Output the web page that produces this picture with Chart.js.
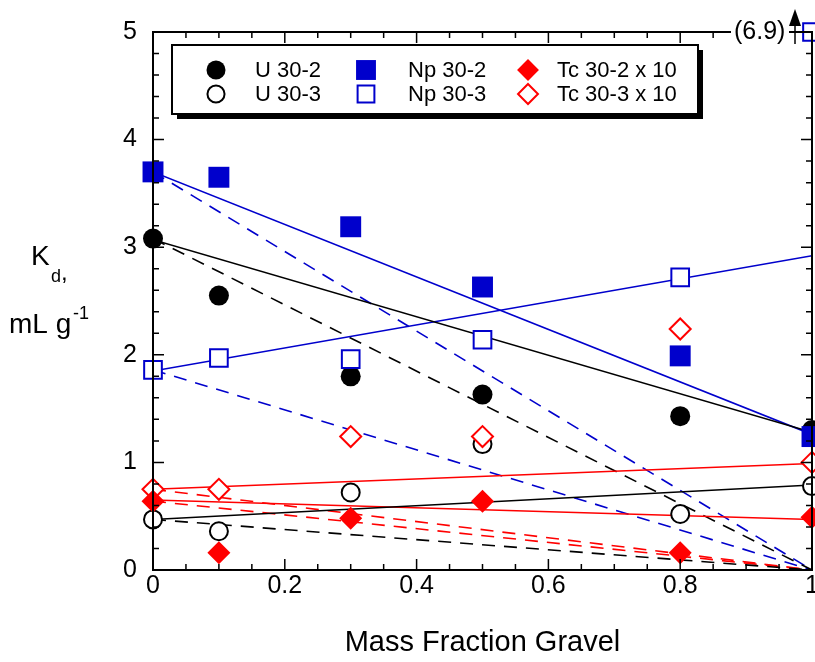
<!DOCTYPE html>
<html>
<head>
<meta charset="utf-8">
<script src="https://cdn.jsdelivr.net/npm/chart.js@4"></script>
<style>
  html, body { margin: 0; padding: 0; background: #fff; overflow: hidden; }
  #clip { width: 815px; height: 662px; overflow: hidden; position: relative; }
  #wrap { width: 830px; height: 662px; position: relative; }
</style>
</head>
<body>
<div id="clip"><div id="wrap"><canvas id="myChart1"></canvas></div></div>
<script>
// mass fraction gravel (x) and Kd values
const gravel = [0, 0.1, 0.3, 0.5, 0.8, 1];
const u302 = [3.08, 2.55, 1.80, 1.63, 1.43, 1.30];
const u303 = [0.47, 0.36, 0.72, 1.17, 0.52, 0.78];
const np302 = [3.70, 3.65, 3.19, 2.63, 1.99, 1.24];
const np303 = [1.86, 1.97, 1.96, 2.14, 2.72, 6.9];   // last one is off scale
const tc302 = [0.64, 0.16, 0.48, 0.64, 0.16, 0.49];  // x 10
const tc303 = [0.75, 0.75, 1.24, 1.24, 2.24, 1.00];  // x 10

// regression lines, value at x=0 and x=1
const fitU302 = [3.07, 1.28];
const fitU303 = [0.47, 0.79];
const fitNp302 = [3.70, 1.26];
const fitNp303 = [1.85, 2.92];
const fitTc302 = [0.65, 0.47];
const fitTc303 = [0.75, 0.99];

const xTicks = [0, 0.2, 0.4, 0.6, 0.8, 1];
const yTicks = [0, 1, 2, 3, 4, 5];
const yMax = 5;

const BLUE = '#0000cc';
const RED = '#ff0000';
const FONT = '"Liberation Sans", Arial, sans-serif';

function pts(vals) {
  return gravel.map((g, i) => ({ x: g, y: Math.min(vals[i], yMax) }));
}
function fit(ends) {
  return [{ x: 0, y: ends[0] }, { x: 1, y: ends[1] }];
}
function dilute(vals) {
  return [{ x: 0, y: vals[0] }, { x: 1, y: 0 }];
}

function lineSet(data, color, dashed) {
  return {
    label: '', data: data, showLine: true, borderColor: color, borderWidth: 1.6,
    borderDash: dashed ? [13, 9] : [], pointRadius: 0, fill: false, order: 10
  };
}
function markSet(label, vals, style, color, filled, r, order) {
  return {
    label: label, data: pts(vals), showLine: false, pointStyle: style,
    pointRadius: r, pointHoverRadius: r,
    pointBackgroundColor: filled ? color : '#fff', pointBorderColor: color,
    pointBorderWidth: filled ? 0 : 2, clip: false, order: order
  };
}

const markers = [
  markSet('U 30-2', u302, 'circle', '#000', true, 10, 3),
  markSet('U 30-3', u303, 'circle', '#000', false, 9, 3),
  markSet('Np 30-2', np302, 'rect', BLUE, true, 14.8, 2),
  markSet('Np 30-3', np303, 'rect', BLUE, false, 12.5, 2),
  markSet('Tc 30-2 x 10', tc302, 'rectRot', RED, true, 11.5, 1),
  markSet('Tc 30-3 x 10', tc303, 'rectRot', RED, false, 10.5, 1)
];

const lines = [
  lineSet(fit(fitU302), '#000', false),
  lineSet(fit(fitU303), '#000', false),
  lineSet(fit(fitNp302), BLUE, false),
  lineSet(fit(fitNp303), BLUE, false),
  lineSet(fit(fitTc302), RED, false),
  lineSet(fit(fitTc303), RED, false),
  lineSet(dilute(u302), '#000', true),
  lineSet(dilute(u303), '#000', true),
  lineSet(dilute(np302), BLUE, true),
  lineSet(dilute(np303), BLUE, true),
  lineSet(dilute(tc302), RED, true),
  lineSet(dilute(tc303), RED, true)
];

function drawMark(ctx, style, x, y, r, color, filled) {
  ctx.beginPath();
  if (style === 'circle') {
    ctx.arc(x, y, r, 0, Math.PI * 2);
  } else if (style === 'rect') {
    const s = r / Math.SQRT2;
    ctx.rect(x - s, y - s, 2 * s, 2 * s);
  } else {
    ctx.moveTo(x, y - r); ctx.lineTo(x + r, y); ctx.lineTo(x, y + r); ctx.lineTo(x - r, y); ctx.closePath();
  }
  ctx.fillStyle = filled ? color : '#fff';
  ctx.fill();
  if (!filled) { ctx.lineWidth = 2; ctx.strokeStyle = color; ctx.stroke(); }
}

// frame, inward ticks, legend box, y title and the (6.9) note
const extras = {
  id: 'extras',
  afterDatasetsDraw(chart) {
    const ctx = chart.ctx;
    const a = chart.chartArea;
    const xs = chart.scales.x, ys = chart.scales.y;
    ctx.save();
    ctx.strokeStyle = '#000';
    ctx.lineWidth = 2;
    ctx.strokeRect(a.left, a.top, a.right - a.left, a.bottom - a.top);

    ctx.lineWidth = 1.5;
    ctx.beginPath();
    for (let i = 0; i <= 20; i++) {
      const px = xs.getPixelForValue(i * 0.05);
      const len = (i % 4 === 0) ? 11 : 6;
      ctx.moveTo(px, a.bottom); ctx.lineTo(px, a.bottom - len);
      ctx.moveTo(px, a.top); ctx.lineTo(px, a.top + len);
    }
    for (let i = 0; i <= 25; i++) {
      const py = ys.getPixelForValue(i * 0.2);
      const len = (i % 5 === 0) ? 11 : 6;
      ctx.moveTo(a.left, py); ctx.lineTo(a.left + len, py);
      ctx.moveTo(a.right, py); ctx.lineTo(a.right - len, py);
    }
    ctx.stroke();

    // legend
    const L = 172, T = 45, R = 698, B = 114;
    ctx.fillStyle = '#000';
    ctx.fillRect(L + 5, T + 5, R - L, B - T);
    ctx.fillStyle = '#fff';
    ctx.fillRect(L, T, R - L, B - T);
    ctx.lineWidth = 2;
    ctx.strokeRect(L, T, R - L, B - T);
    const colX = [[216, 255], [366, 408], [528, 557]];
    const rowY = [70, 94];
    ctx.font = '22px ' + FONT;
    ctx.textBaseline = 'middle';
    ctx.textAlign = 'left';
    markers.forEach((d, i) => {
      const col = Math.floor(i / 2), row = i % 2;
      const filled = d.pointBorderWidth === 0;
      drawMark(ctx, d.pointStyle, colX[col][0], rowY[row], d.pointRadius * 0.95, d.pointBorderColor, filled);
      ctx.fillStyle = '#000';
      ctx.fillText(d.label, colX[col][1], rowY[row] + 1);
    });

    // off-scale note
    const topY = a.top;
    ctx.font = '25px ' + FONT;
    ctx.fillStyle = '#fff';
    ctx.fillRect(731, topY - 15, 58, 30);
    ctx.fillStyle = '#000';
    ctx.strokeStyle = '#000';
    ctx.textBaseline = 'middle';
    ctx.fillText('(' + np303[5] + ')', 734, topY);
    ctx.lineWidth = 1.5;
    ctx.beginPath();
    ctx.moveTo(795, topY + 12); ctx.lineTo(795, topY - 12);
    ctx.moveTo(789, topY); ctx.lineTo(a.right, topY);
    ctx.stroke();
    ctx.beginPath();
    ctx.moveTo(795, topY - 23); ctx.lineTo(801, topY - 6); ctx.lineTo(789, topY - 6); ctx.closePath();
    ctx.fill();

    // y title: K_d, / mL g^-1
    ctx.textBaseline = 'alphabetic';
    ctx.fillStyle = '#000';
    ctx.font = '28px ' + FONT;
    ctx.fillText('K', 31, 265);
    ctx.fillText('mL g', 9, 333);
    ctx.font = '18px ' + FONT;
    ctx.fillText('d', 51, 282);
    ctx.fillText('-1', 73, 319);
    ctx.font = '24px ' + FONT;
    ctx.fillText(',', 61, 280);
    ctx.restore();
  }
};

const ctx = document.getElementById('myChart1');
const myChart1 = new Chart(ctx, {
  type: 'scatter',
  data: { datasets: markers.concat(lines) },
  options: {
    responsive: true,
    maintainAspectRatio: false,
    animation: false,
    events: [],
    layout: { padding: { top: 32, right: 18, left: 0, bottom: 0 } },
    plugins: { legend: { display: false }, tooltip: { enabled: false } },
    scales: {
      x: {
        type: 'linear', min: 0, max: 1,
        afterBuildTicks: s => { s.ticks = xTicks.map(v => ({ value: v })); },
        afterFit: s => { s.height = 92; },
        grid: { display: false, drawTicks: false },
        border: { display: false },
        ticks: {
          color: '#000', font: { size: 25, family: FONT }, padding: 1, maxRotation: 0,
          callback: v => String(Math.round(v * 100) / 100)
        },
        title: { display: true, text: 'Mass Fraction Gravel', color: '#000', font: { size: 29, family: FONT }, padding: { top: 0, bottom: 2 } }
      },
      y: {
        type: 'linear', min: 0, max: yMax,
        afterBuildTicks: s => { s.ticks = yTicks.map(v => ({ value: v })); },
        afterFit: s => { s.width = 153; },
        grid: { display: false, drawTicks: false },
        border: { display: false },
        ticks: { color: '#000', font: { size: 25, family: FONT }, padding: 16 }
      }
    }
  },
  plugins: [extras]
});
</script>
</body>
</html>
